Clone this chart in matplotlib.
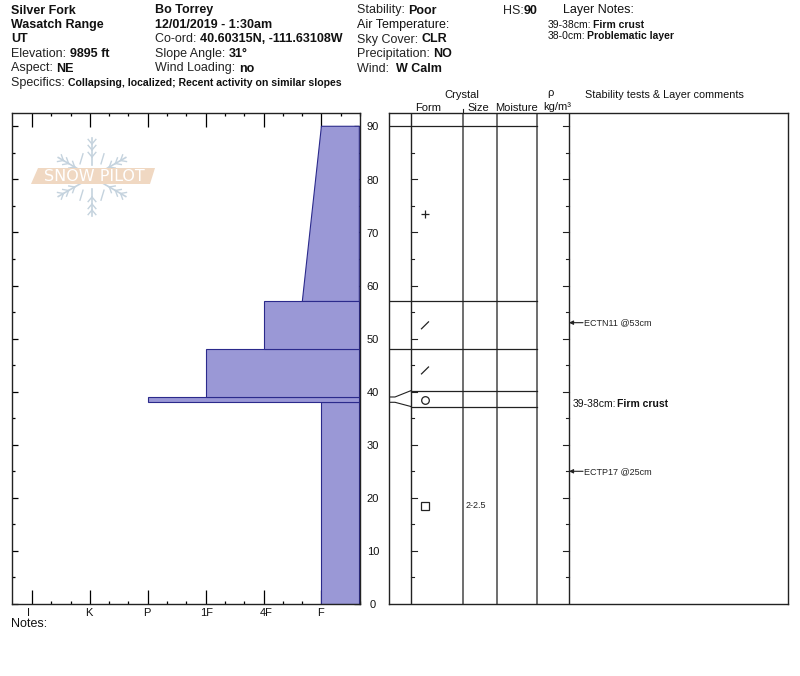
import numpy as np
import matplotlib
matplotlib.use("Agg")
import matplotlib.pyplot as plt
from matplotlib.patches import Polygon

plt.rcParams["font.family"] = ["Liberation Sans", "DejaVu Sans"]

# hand hardness scale, I=0 ... F=5
hardness_labels = ["I", "K", "P", "1F", "4F", "F"]
hardness_label_shift = [-4, -1, -1, 1, 2, -2]
depth_ticks = [0, 10, 20, 30, 40, 50, 60, 70, 80, 90]

# layers: bottom, top, hardness at bottom, hardness at top
layer_bottom = [0, 38, 39, 48, 57]
layer_top = [38, 39, 48, 57, 90]
layer_hard_bottom = [5, 2, 3, 4, 4.67]
layer_hard_top = [5, 2, 3, 4, 5]

# drawn layer edges in the right panel (the connector bends for thin layers)
edge_real = [39, 38]
edge_shown = [40.2, 37.2]
layer_lines = [90, 57, 48]

grain_depth = [73.5, 52.5, 44, 38.5, 18.5]
grain_marker = ["+", "/", "/", "o", "s"]
size_label = "2-2.5"
size_depth = 18.5

test_labels = ["ECTN11 @53cm", "ECTP17 @25cm"]
test_depth = [53, 25]

W, H = 800, 676
fig = plt.figure(figsize=(W / 100, H / 100), dpi=100, facecolor="white")
LINE = "#222222"
GREY = "#555555"


def axes_px(x0, y0, x1, y1):
    return fig.add_axes([x0 / W, 1 - y1 / H, (x1 - x0) / W, (y1 - y0) / H])


def fig_text(x, y, s, size=9, weight="normal", ha="left", **kw):
    # y is the text baseline in pixels from the top
    fig.text(x / W, 1 - y / H, s, fontsize=size, fontweight=weight, ha=ha, va="baseline", color="#111111", **kw)


def label_value(x, y, label, value, size=9, vsize=None):
    # plain label followed by a bold value
    t = fig.text(x / W, 1 - y / H, label, fontsize=size, va="baseline", color="#222222")
    bb = t.get_window_extent(fig.canvas.get_renderer())
    fig.text(bb.x1 / W, 1 - y / H, value, fontsize=vsize or size, fontweight="bold", va="baseline", color="#111111")


ymin = 0
ymax = 92.5
px_per_unit = 58.0
xmin = (12 - 32) / px_per_unit
xmax = (360 - 32) / px_per_unit

# left panel, hardness profile
ax = axes_px(12, 113, 360, 604)
ax.set_xlim(xmin, xmax)
ax.set_ylim(ymin, ymax)
for b, t, hb, ht in zip(layer_bottom, layer_top, layer_hard_bottom, layer_hard_top):
    ax.add_patch(Polygon([(xmax, b), (hb, b), (ht, t), (xmax, t)], closed=True, facecolor="#9a98d6",
                         edgecolor="#2b2a8c", linewidth=0.8, zorder=2))
ax.set_xticks(range(len(hardness_labels)))
ax.set_xticklabels([])
ax.set_xticks(np.arange(0, 5.7, 1 / 3), minor=True)
ax.set_yticks(depth_ticks)
ax.set_yticklabels([])
ax.set_yticks(np.arange(5, 91, 10), minor=True)
ax.tick_params(axis="x", which="major", direction="in", length=10, width=0.9, top=True, bottom=True)
ax.tick_params(axis="x", which="minor", direction="in", length=2.5, width=0.9, top=True, bottom=True)
ax.tick_params(axis="y", which="major", direction="in", length=4.5, width=0.9, left=True, right=True)
ax.tick_params(axis="y", which="minor", direction="in", length=2.5, width=0.9, left=True, right=True)
for s in ax.spines.values():
    s.set_linewidth(1.0)
    s.set_color(LINE)
for i, lab in enumerate(hardness_labels):
    fig_text(32 + i * px_per_unit + hardness_label_shift[i], 616, lab, size=8, ha="center")
for v in depth_ticks:
    fig_text(373, 604 - v * 5.306 + 4, str(v), size=8, ha="center")

# right panel, layer table
ax2 = axes_px(389, 113, 788, 604)
ax2.set_xlim(389, 788)
ax2.set_ylim(ymin, ymax)
ax2.set_xticks([])
ax2.set_yticks([])
for s in ax2.spines.values():
    s.set_linewidth(1.0)
    s.set_color(LINE)
for x in [411, 569]:
    ax2.axvline(x, color=LINE, lw=1.0)
for x in [463, 497, 537]:
    ax2.axvline(x, color=GREY, lw=1.2)
ax2.plot([463, 463], [92.5, 93.3], color=LINE, lw=0.8, clip_on=False)
for d in layer_lines:
    ax2.plot([389, 537], [d, d], color=LINE, lw=0.9)
for real, shown in zip(edge_real, edge_shown):
    ax2.plot([389, 395, 411], [real, real, shown], color=LINE, lw=0.8)
    ax2.plot([411, 537], [shown, shown], color=LINE, lw=0.9)
for d in np.arange(5, 91, 5):
    tick = 6 if d % 10 == 0 else 3
    if d < 90:
        ax2.plot([411, 411 + tick], [d, d], color=LINE, lw=0.8)
    ax2.plot([569 - tick, 569], [d, d], color=LINE, lw=0.8)

for d, m in zip(grain_depth, grain_marker):
    if m == "/":
        ax2.plot([421.5, 428.5], [d - 0.65, d + 0.65], color=LINE, lw=0.9)
    elif m == "+":
        ax2.plot(425, d, "+", color=LINE, ms=6, mew=0.9)
    else:
        ax2.plot(425, d, m, mfc="white", mec=LINE, ms=5.5, mew=0.9)
ax2.text(466, size_depth, size_label, fontsize=6.5, va="center", color=LINE)

for lab, d in zip(test_labels, test_depth):
    ax2.annotate("", xy=(569, d), xytext=(583, d),
                 arrowprops=dict(arrowstyle="-|>", lw=0.8, color=LINE, mutation_scale=6, shrinkA=0, shrinkB=0))
    ax2.text(584, d, lab, fontsize=6.5, va="center", color=LINE)

# header block
rows = [13.5, 28, 42.5, 57, 71.5]
fig_text(11, rows[0], "Silver Fork", weight="bold")
fig_text(11, rows[1], "Wasatch Range", weight="bold")
fig_text(11, rows[2], "UT", weight="bold")
label_value(11, rows[3], "Elevation: ", "9895 ft")
label_value(11, rows[4], "Aspect: ", "NE")
fig_text(155, rows[0], "Bo Torrey", weight="bold")
fig_text(155, rows[1], "12/01/2019 - 1:30am", weight="bold")
label_value(155, rows[2], "Co-ord: ", "40.60315N, -111.63108W")
label_value(155, rows[3], "Slope Angle: ", "31°")
label_value(155, rows[4], "Wind Loading: ", "no")
label_value(357, rows[0], "Stability: ", "Poor")
fig_text(357, rows[1], "Air Temperature:")
label_value(357, rows[2], "Sky Cover: ", "CLR")
label_value(357, rows[3], "Precipitation: ", "NO")
label_value(357, rows[4], "Wind:  ", "W Calm")
label_value(11, 86, "Specifics: ", "Collapsing, localized; Recent activity on similar slopes", vsize=7.6)
label_value(503, rows[0], "HS:", "90")
fig_text(563, rows[0], "Layer Notes:")
fig_text(548, 28, "39-38cm:", size=7.5)
fig_text(593, 28, "Firm crust", size=7.5, weight="bold")
fig_text(548, 38.7, "38-0cm:", size=7.5)
fig_text(587, 38.7, "Problematic layer", size=7.5, weight="bold")

# comment next to the thin layer
fig_text(573, 407, "39-38cm:", size=7.5)
fig_text(617, 407, "Firm crust", size=7.5, weight="bold")

fig_text(11, 627, "Notes:")

# table column headings
fig_text(462, 97.5, "Crystal", size=8, ha="center")
fig_text(428, 111, "Form", size=8, ha="center")
fig_text(478, 111, "Size", size=8, ha="center")
fig_text(516, 111, "Moisture", size=8, ha="center")
fig_text(550, 96, "ρ", size=8, ha="center")
fig_text(557, 110, "kg/m³", size=8, ha="center")
fig_text(585, 98, "Stability tests & Layer comments", size=7.8)

# watermark
overlay = fig.add_axes([0, 0, 1, 1], facecolor="none", zorder=5)
overlay.set_xlim(0, W)
overlay.set_ylim(H, 0)
overlay.axis("off")
FLAKE = "#c5d3de"
cx, cy = 92, 177
for ang in [90, 30, 150, 210, 270, 330]:
    a = np.deg2rad(ang)
    overlay.plot([cx + 12 * np.cos(a), cx + 39 * np.cos(a)], [cy - 12 * np.sin(a), cy - 39 * np.sin(a)], color=FLAKE, lw=1.2)
    for r in [20, 27, 33]:
        for da in [40, -40]:
            b = a + np.deg2rad(da)
            px, py = cx + r * np.cos(a), cy - r * np.sin(a)
            overlay.plot([px, px + 6 * np.cos(b)], [py, py - 6 * np.sin(b)], color=FLAKE, lw=1.0)
for ang in [60, 120, 240, 300]:
    a = np.deg2rad(ang)
    px, py = cx + 21 * np.cos(a), cy - 21 * np.sin(a)
    overlay.plot([px - 1.5, px + 1.5], [py + 5, py - 5], color=FLAKE, lw=1.0)
overlay.add_patch(Polygon([(38, 168), (155, 168), (150, 184), (31, 184)], closed=True, facecolor="#f0d8c2", edgecolor="none", zorder=4))
overlay.text(94, 176.5, "SNOW PILOT", fontsize=11.5, color="white", ha="center", va="center", family="DejaVu Sans", zorder=5)

fig.savefig("out.png", dpi=100)
